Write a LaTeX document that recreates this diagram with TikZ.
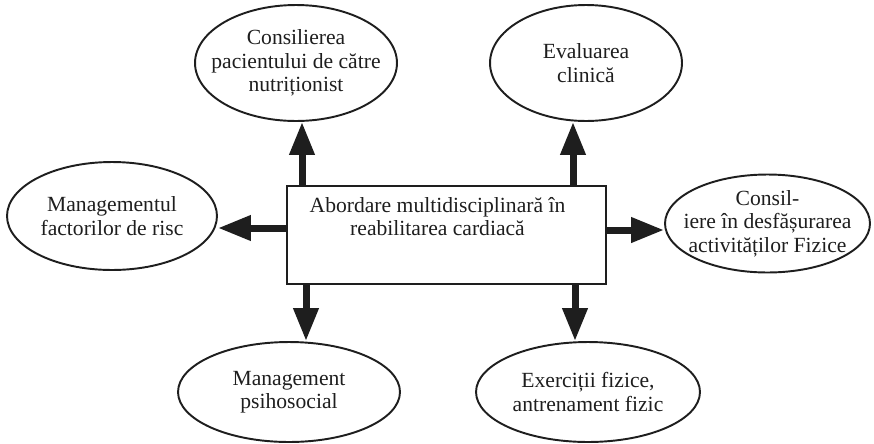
\documentclass[tikz,border=0pt]{standalone}
\usepackage{fontspec}
\setmainfont{Liberation Serif}
\usepackage{tikz}
\usetikzlibrary{arrows.meta,positioning,shapes.geometric}
\definecolor{inkblack}{RGB}{30,30,30}

\begin{document}
\begin{tikzpicture}[x=0.02cm, y=-0.02cm,
    every node/.style={font=\fontsize{12.3}{13.4}\selectfont, align=center, text=inkblack},
    oval/.style={ellipse, draw=inkblack, line width=1.1pt, inner xsep=-1cm, inner ysep=-0.5cm},
    fatarrow/.style={-{Triangle[length=0.66cm,width=0.48cm]}, line width=0.14cm, draw=inkblack}]
  \useasboundingbox (0,0) rectangle (874,443);
  % Central box
  \node[draw=inkblack, line width=1.1pt, minimum width=6.38cm, minimum height=1.96cm] (box) at (446.5,235) {};
  \node[below=0.24cm of box.north, xshift=-0.18cm, inner sep=0pt] (boxtxt) {Abordare multidisciplinară în\\reabilitarea cardiacă};
  % Ovals
  \node[oval, minimum width=4.04cm, minimum height=2.32cm] (nutr) at (296,63) {Consilierea\\pacientului de către\\nutriționist};
  \node[oval, minimum width=3.84cm, minimum height=2.32cm] (eval) at (586,63) {Evaluarea\\clinică};
  \node[oval, minimum width=4.2cm, minimum height=2.16cm] (risc) at (112,216) {Managementul\\factorilor de risc};
  \node[oval, minimum width=4.1cm, minimum height=1.96cm] (activ) at (767.5,223.5) {Consil-\\iere în desfășurarea\\activităților Fizice};
  \node[oval, minimum width=4.44cm, minimum height=2.0cm] (psiho) at (289,392) {Management\\psihosocial};
  \node[oval, minimum width=4.48cm, minimum height=2.0cm] (exerc) at (588,392) {Exerciții fizice,\\antrenament fizic};
  % Arrows
  \draw[fatarrow] ([xshift=0.12cm]nutr.south |- box.north) -- ([xshift=0.12cm]nutr.south);
  \draw[fatarrow] ([xshift=-0.26cm]eval.south |- box.north) -- ([xshift=-0.26cm]eval.south);
  \draw[fatarrow] ([yshift=0.14cm]box.west) -- ([yshift=0.14cm]box.west -| risc.east);
  \draw[fatarrow] ([yshift=0.1cm]box.east) -- ([yshift=0.1cm]box.east -| activ.west);
  \draw[fatarrow] ([xshift=0.34cm]psiho.north |- box.south) -- ([xshift=0.34cm]psiho.north);
  \draw[fatarrow] ([xshift=-0.26cm]exerc.north |- box.south) -- ([xshift=-0.26cm]exerc.north);
\end{tikzpicture}
\end{document}
